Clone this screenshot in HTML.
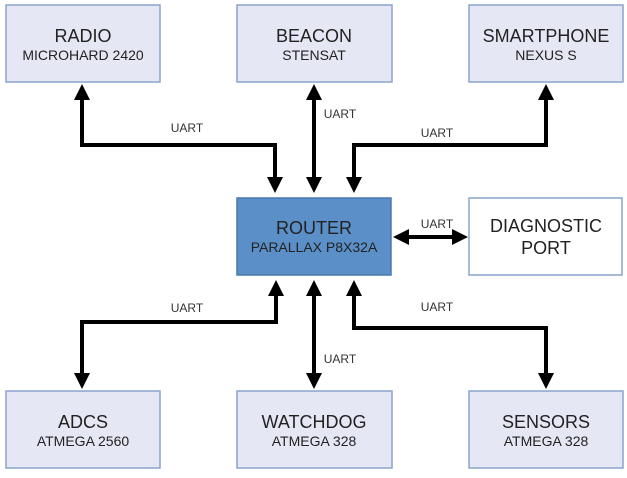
<!DOCTYPE html>
<html><head><style>body{margin:0;background:#fff}</style></head><body>
<svg width="627" height="473" xmlns="http://www.w3.org/2000/svg" font-family="Liberation Sans, sans-serif">
<defs><marker id="a" markerWidth="4" markerHeight="4" refX="3" refY="2" orient="auto-start-reverse" markerUnits="strokeWidth"><path d="M0,0 L4,2 L0,4 z" fill="#000"/></marker></defs>
<g stroke="#8aa4cc" stroke-width="1.5" fill="#e6e7f4">
<rect x="6" y="5" width="154" height="77"/>
<rect x="237" y="5" width="155" height="77"/>
<rect x="469" y="5" width="154" height="77"/>
<rect x="6" y="391" width="154" height="77"/>
<rect x="237" y="391" width="155" height="77"/>
<rect x="469" y="391" width="154" height="77"/>
<rect x="469" y="198" width="153" height="77" fill="#fff"/>
<rect x="237" y="198" width="154" height="77" fill="#5b8fc8" stroke="#4a78ad"/>
</g>
<g stroke="#000" stroke-width="4" fill="none" marker-start="url(#a)" marker-end="url(#a)">
<path d="M82,88 V145 H275 V189"/>
<path d="M314,88 V189"/>
<path d="M546,88 V145 H354 V189"/>
<path d="M397,237 H464"/>
<path d="M276,284 V322 H82 V385"/>
<path d="M314,284 V385"/>
<path d="M354,284 V328 H546 V385"/>
</g>
<g font-size="12" fill="#333" text-anchor="middle">
<text x="187" y="132">UART</text><text x="340" y="118">UART</text><text x="437" y="137">UART</text>
<text x="437" y="228">UART</text><text x="187" y="312">UART</text><text x="340" y="363">UART</text><text x="437" y="311">UART</text>
</g>
<g text-anchor="middle" fill="#222">
<g font-size="18"><text x="83" y="42">RADIO</text><text x="314" y="42">BEACON</text><text x="546" y="42">SMARTPHONE</text>
<text x="83" y="428">ADCS</text><text x="314" y="428">WATCHDOG</text><text x="546" y="428">SENSORS</text>
<text x="546" y="232">DIAGNOSTIC</text><text x="546" y="254">PORT</text>
<text x="314" y="234">ROUTER</text></g>
<g font-size="14"><text x="83" y="60">MICROHARD 2420</text><text x="314" y="60">STENSAT</text><text x="546" y="60">NEXUS S</text>
<text x="83" y="446">ATMEGA 2560</text><text x="314" y="446">ATMEGA 328</text><text x="546" y="446">ATMEGA 328</text>
<text x="314" y="252">PARALLAX P8X32A</text></g>
</g>
</svg>
</body></html>
